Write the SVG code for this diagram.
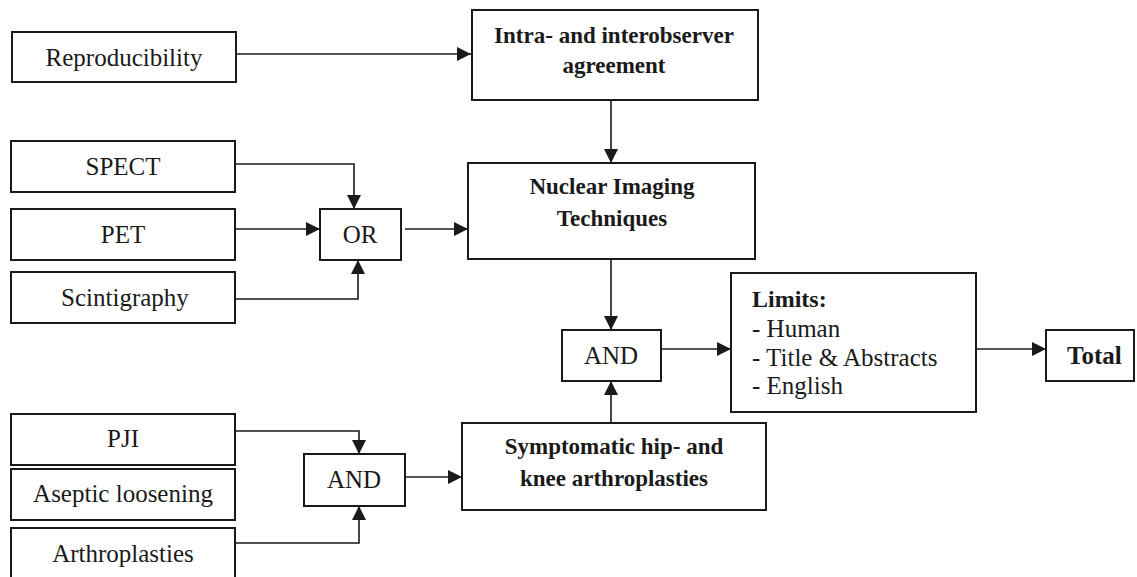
<svg xmlns="http://www.w3.org/2000/svg" width="1137" height="577" viewBox="0 0 1137 577" font-family="Liberation Serif, Times New Roman, serif">
<defs>
<style>
.box{fill:#fff;stroke:#1a1a1a;stroke-width:2}
.t{font-size:25px;fill:#1a1a1a;text-anchor:middle}
.b{font-size:23px;font-weight:bold;fill:#1a1a1a;text-anchor:middle}
.c{fill:none;stroke:#1a1a1a;stroke-width:1.6}
</style>
<marker id="ah" markerUnits="userSpaceOnUse" markerWidth="14" markerHeight="14" refX="14" refY="7" orient="auto" viewBox="0 0 14 14">
<path d="M0,0 L14,7 L0,14 z" fill="#1a1a1a"/>
</marker>
</defs>
<rect width="1137" height="577" fill="#fff"/>
<g id="connectors">
<path class="c" d="M236,54 H471" marker-end="url(#ah)"/>
<path class="c" d="M235,164 H354 V209" marker-end="url(#ah)"/>
<path class="c" d="M235,229 H320" marker-end="url(#ah)"/>
<path class="c" d="M235,299 H358 V260" marker-end="url(#ah)"/>
<path class="c" d="M405,229 H468" marker-end="url(#ah)"/>
<path class="c" d="M611,101 V163" marker-end="url(#ah)"/>
<path class="c" d="M611,259 V330" marker-end="url(#ah)"/>
<path class="c" d="M662,349 H731" marker-end="url(#ah)"/>
<path class="c" d="M976,349 H1046" marker-end="url(#ah)"/>
<path class="c" d="M611,423 V381" marker-end="url(#ah)"/>
<path class="c" d="M235,431 H359 V454" marker-end="url(#ah)"/>
<path class="c" d="M235,543 H359 V506" marker-end="url(#ah)"/>
<path class="c" d="M405,477 H462" marker-end="url(#ah)"/>
</g>
<g id="reproducibility"><rect class="box" x="12" y="32" width="224" height="50"/><text class="t" x="124" y="66">Reproducibility</text></g>
<g id="intra"><rect class="box" x="472" y="10" width="286" height="90"/><text class="b" x="614" y="43">Intra- and interobserver</text><text class="b" x="614" y="73">agreement</text></g>
<g id="spect"><rect class="box" x="11" y="141" width="224" height="51"/><text class="t" x="123" y="175">SPECT</text></g>
<g id="pet"><rect class="box" x="11" y="209" width="224" height="51"/><text class="t" x="123" y="243">PET</text></g>
<g id="scintigraphy"><rect class="box" x="11" y="272" width="224" height="51"/><text class="t" x="125" y="306">Scintigraphy</text></g>
<g id="or"><rect class="box" x="320" y="209" width="81" height="51"/><text class="t" x="360" y="243">OR</text></g>
<g id="nuclear"><rect class="box" x="468" y="163" width="287" height="96"/><text class="b" x="612" y="194">Nuclear Imaging</text><text class="b" x="612" y="226">Techniques</text></g>
<g id="and1"><rect class="box" x="562" y="330" width="99" height="51"/><text class="t" x="611" y="364">AND</text></g>
<g id="limits"><rect class="box" x="731" y="273" width="245" height="139"/>
<text class="t" x="752" y="307" style="text-anchor:start;font-weight:bold;font-size:24px">Limits:</text>
<text class="t" x="752" y="337" style="text-anchor:start">- Human</text>
<text class="t" x="752" y="366" style="text-anchor:start">- Title &amp; Abstracts</text>
<text class="t" x="752" y="394" style="text-anchor:start">- English</text></g>
<g id="total"><rect class="box" x="1046" y="330" width="88" height="51"/><text class="b" x="1067" y="364" style="text-anchor:start;font-size:25px">Total</text></g>
<g id="symptomatic"><rect class="box" x="462" y="423" width="304" height="87"/><text class="b" x="614" y="454">Symptomatic hip- and</text><text class="b" x="614" y="486">knee arthroplasties</text></g>
<g id="pji"><rect class="box" x="11" y="414" width="224" height="51"/><text class="t" x="123" y="447">PJI</text></g>
<g id="aseptic"><rect class="box" x="11" y="469" width="224" height="51"/><text class="t" x="123" y="502">Aseptic loosening</text></g>
<g id="arthroplasties"><rect class="box" x="11" y="528" width="224" height="60"/><text class="t" x="123" y="562">Arthroplasties</text></g>
<g id="and2"><rect class="box" x="304" y="454" width="101" height="52"/><text class="t" x="354" y="488">AND</text></g>
</svg>
